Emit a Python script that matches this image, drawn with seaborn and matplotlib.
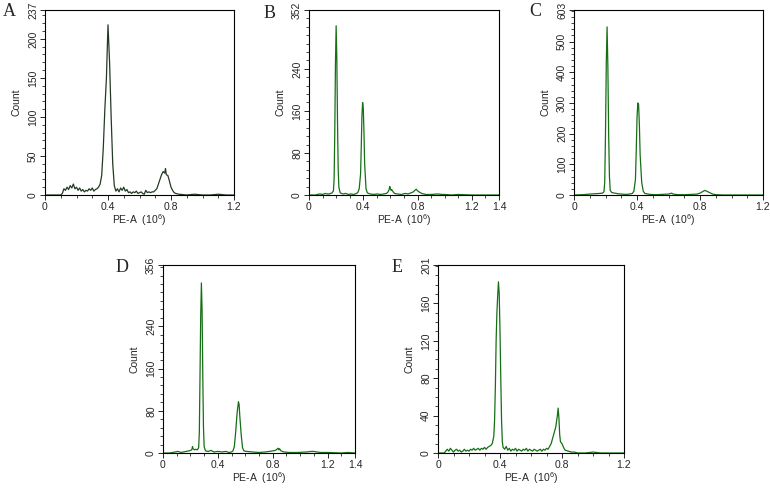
import matplotlib
matplotlib.use("Agg")
import matplotlib.pyplot as plt
import seaborn as sns
import pandas as pd
from matplotlib.ticker import MultipleLocator

sns.set_style("ticks")
plt.rcParams["font.family"] = ["Liberation Sans", "DejaVu Sans"]
plt.rcParams["mathtext.default"] = "regular"

# histogram traces: (PE-A in 10^6, count)
a_pts = [(0, 0), (0.05, 0), (0.10, 0), (0.11, 2), (0.12, 8), (0.13, 6), (0.14, 10), (0.15, 7),
         (0.16, 12), (0.17, 9), (0.18, 14), (0.19, 8), (0.20, 10), (0.21, 6), (0.22, 9), (0.23, 5),
         (0.24, 7), (0.25, 4), (0.26, 6), (0.27, 5), (0.28, 8), (0.29, 6), (0.30, 9), (0.31, 5),
         (0.32, 7), (0.33, 8), (0.34, 10), (0.35, 14), (0.36, 25), (0.37, 60), (0.38, 110),
         (0.39, 150), (0.395, 185), (0.40, 218), (0.41, 170), (0.42, 100), (0.43, 40), (0.44, 12),
         (0.45, 5), (0.46, 8), (0.47, 4), (0.48, 9), (0.49, 6), (0.50, 10), (0.51, 5), (0.52, 7),
         (0.53, 3), (0.54, 4), (0.55, 2), (0.56, 4), (0.57, 3), (0.58, 5), (0.59, 2), (0.60, 3),
         (0.61, 4), (0.62, 2), (0.63, 1), (0.64, 6), (0.65, 3), (0.66, 4), (0.67, 3), (0.68, 4),
         (0.69, 4), (0.70, 6), (0.71, 8), (0.72, 14), (0.73, 20), (0.74, 26), (0.75, 30), (0.76, 28),
         (0.765, 34), (0.77, 26), (0.78, 25), (0.79, 18), (0.80, 10), (0.81, 6), (0.82, 3), (0.83, 2),
         (0.85, 1), (0.90, 0), (0.95, 1), (1.00, 0), (1.05, 0), (1.10, 1), (1.15, 0), (1.20, 0)]

b_pts = [(0, 0), (0.05, 0), (0.06, 1), (0.08, 2), (0.10, 1), (0.12, 3), (0.13, 2), (0.15, 2),
         (0.17, 4), (0.18, 8), (0.185, 30), (0.19, 120), (0.195, 250), (0.20, 322), (0.205, 260),
         (0.21, 140), (0.215, 50), (0.22, 15), (0.23, 4), (0.25, 2), (0.27, 3), (0.29, 1), (0.31, 2),
         (0.33, 1), (0.35, 3), (0.36, 5), (0.37, 12), (0.38, 40), (0.385, 90), (0.39, 150),
         (0.395, 176), (0.40, 165), (0.405, 120), (0.41, 60), (0.42, 12), (0.43, 4), (0.45, 2),
         (0.48, 1), (0.50, 2), (0.53, 1), (0.55, 2), (0.57, 3), (0.58, 5), (0.59, 10), (0.595, 16),
         (0.60, 12), (0.605, 9), (0.61, 10), (0.62, 6), (0.63, 3), (0.65, 2), (0.68, 1), (0.71, 3),
         (0.73, 2), (0.75, 4), (0.77, 6), (0.78, 9), (0.79, 11), (0.80, 8), (0.81, 6), (0.83, 3),
         (0.86, 1), (0.90, 1), (0.95, 2), (0.98, 1), (1.00, 1), (1.05, 0), (1.10, 1), (1.20, 0),
         (1.30, 0), (1.40, 0)]

c_pts = [(0, 0), (0.05, 1), (0.08, 2), (0.10, 3), (0.13, 4), (0.16, 5), (0.18, 6), (0.19, 10),
         (0.195, 40), (0.20, 200), (0.205, 430), (0.21, 548), (0.215, 420), (0.22, 200), (0.225, 60),
         (0.23, 15), (0.24, 8), (0.26, 6), (0.28, 4), (0.30, 3), (0.33, 2), (0.35, 3), (0.37, 5),
         (0.38, 12), (0.39, 50), (0.395, 140), (0.40, 250), (0.405, 300), (0.41, 295), (0.415, 230),
         (0.42, 130), (0.43, 40), (0.44, 12), (0.45, 5), (0.48, 2), (0.52, 1), (0.56, 2), (0.60, 3),
         (0.62, 6), (0.63, 3), (0.66, 1), (0.70, 1), (0.75, 2), (0.78, 3), (0.80, 6), (0.82, 12),
         (0.83, 15), (0.84, 13), (0.86, 8), (0.88, 3), (0.90, 1), (0.95, 0), (1.0, 0), (1.1, 0),
         (1.2, 0)]

d_pts = [(0, 0), (0.05, 0), (0.07, 1), (0.09, 2), (0.11, 3), (0.13, 1), (0.15, 2), (0.17, 3),
         (0.19, 4), (0.21, 6), (0.215, 12), (0.22, 8), (0.23, 6), (0.24, 7), (0.25, 6), (0.26, 10),
         (0.265, 40), (0.27, 150), (0.275, 260), (0.28, 322), (0.285, 270), (0.29, 150), (0.295, 50),
         (0.30, 12), (0.31, 4), (0.33, 3), (0.35, 5), (0.37, 2), (0.40, 3), (0.43, 2), (0.46, 3),
         (0.48, 1), (0.50, 2), (0.51, 4), (0.52, 12), (0.53, 40), (0.54, 75), (0.55, 97), (0.555, 92),
         (0.56, 70), (0.57, 35), (0.58, 10), (0.59, 4), (0.61, 3), (0.65, 2), (0.70, 1), (0.75, 2),
         (0.80, 4), (0.82, 5), (0.84, 9), (0.845, 6), (0.85, 8), (0.86, 4), (0.88, 2), (0.92, 1),
         (0.98, 1), (1.05, 2), (1.08, 3), (1.10, 3), (1.12, 2), (1.15, 1), (1.20, 1), (1.30, 0),
         (1.35, 1), (1.40, 0)]

e_pts = [(0, 0), (0.04, 0), (0.05, 2), (0.06, 4), (0.07, 2), (0.08, 5), (0.09, 3), (0.10, 1),
         (0.11, 3), (0.12, 4), (0.13, 2), (0.14, 3), (0.15, 1), (0.16, 2), (0.17, 4), (0.18, 2),
         (0.19, 3), (0.20, 2), (0.21, 4), (0.22, 3), (0.23, 5), (0.24, 3), (0.25, 4), (0.26, 5),
         (0.27, 3), (0.28, 5), (0.29, 4), (0.30, 6), (0.31, 4), (0.32, 6), (0.33, 7), (0.34, 8),
         (0.35, 10), (0.36, 18), (0.365, 35), (0.37, 70), (0.375, 120), (0.38, 150), (0.385, 168),
         (0.39, 183), (0.395, 170), (0.40, 130), (0.405, 80), (0.41, 35), (0.415, 12), (0.42, 6),
         (0.43, 4), (0.44, 7), (0.45, 3), (0.46, 5), (0.47, 2), (0.48, 4), (0.49, 3), (0.50, 5),
         (0.51, 2), (0.52, 4), (0.53, 3), (0.54, 2), (0.55, 4), (0.56, 3), (0.57, 5), (0.58, 2),
         (0.59, 4), (0.60, 3), (0.61, 2), (0.62, 4), (0.63, 3), (0.64, 2), (0.65, 3), (0.66, 4),
         (0.67, 2), (0.68, 4), (0.69, 3), (0.70, 5), (0.71, 4), (0.72, 7), (0.73, 10), (0.74, 16),
         (0.75, 22), (0.76, 28), (0.77, 40), (0.775, 48), (0.78, 38), (0.785, 20), (0.79, 12),
         (0.80, 10), (0.81, 6), (0.82, 3), (0.84, 2), (0.86, 1), (0.88, 1), (0.90, 0), (0.95, 0),
         (1.0, 1), (1.05, 0), (1.1, 0), (1.2, 0)]

panel_letters = ["A", "B", "C", "D", "E"]
x_max = [1.2, 1.4, 1.2, 1.4, 1.2]
x_ticks = [[0, 0.4, 0.8, 1.2], [0, 0.4, 0.8, 1.2, 1.4], [0, 0.4, 0.8, 1.2],
           [0, 0.4, 0.8, 1.2, 1.4], [0, 0.4, 0.8, 1.2]]
y_ticks = [[0, 50, 100, 150, 200, 237], [0, 80, 160, 240, 352], [0, 100, 200, 300, 400, 500, 603],
           [0, 80, 160, 240, 356], [0, 40, 80, 120, 160, 201]]
y_minor = [10, 16, 20, 16, 10]
line_colors = ["#243a24", "#157015", "#157015", "#157015", "#157015"]

# axes boxes in pixels: left, right, top, bottom
boxes = [(45, 234, 10, 195), (309, 499, 10, 195), (574, 763, 10, 195),
         (163, 355, 265, 453), (438, 624, 265, 453)]
letter_pos = [(3, 11), (264, 13), (529, 11), (116, 267), (392, 267)]

W, H = 770, 490
fig = plt.figure(figsize=(W / 100, H / 100), dpi=100)

for i, pts in enumerate([a_pts, b_pts, c_pts, d_pts, e_pts]):
    df = pd.DataFrame(pts, columns=["pe", "count"])
    l, r, t, b = boxes[i]
    ax = fig.add_axes([l / W, (H - b) / H, (r - l) / W, (b - t) / H])
    sns.lineplot(data=df, x="pe", y="count", ax=ax, color=line_colors[i], lw=0.9)
    ax.set_xlim(0, x_max[i])
    ax.set_ylim(0, y_ticks[i][-1])
    ax.set_xticks(x_ticks[i])
    ax.set_xticklabels([f"{v:g}" for v in x_ticks[i]])
    ax.set_yticks(y_ticks[i])
    ax.set_yticklabels([str(v) for v in y_ticks[i]], rotation=90, va="center")
    ax.xaxis.set_minor_locator(MultipleLocator(0.1))
    ax.yaxis.set_minor_locator(MultipleLocator(y_minor[i]))
    ax.tick_params(which="major", length=3.5, width=0.7, labelsize=7.5, pad=1.5, direction="out")
    ax.tick_params(which="minor", length=2, width=0.6, direction="out")
    for s in ax.spines.values():
        s.set_visible(True)
        s.set_linewidth(0.8)
        s.set_color("black")
    ax.set_xlabel("PE-A  (10$^{6}$)", fontsize=7.5, labelpad=0)
    ax.set_ylabel("Count", fontsize=7.5, labelpad=5)
    lx, ly = letter_pos[i]
    fig.text(lx / W, 1 - ly / H, panel_letters[i], family="Liberation Serif",
             fontsize=13, va="center", ha="left")

fig.savefig("out.png", dpi=100)
